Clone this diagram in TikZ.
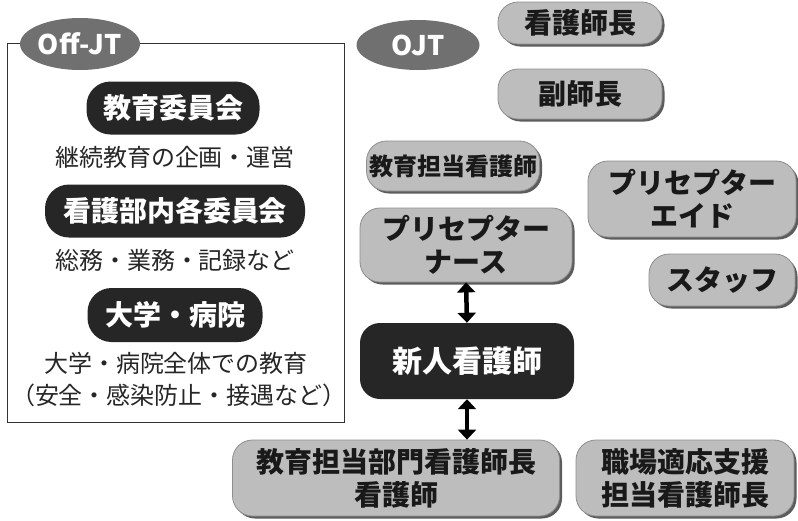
\documentclass[tikz,border=0pt]{standalone}
\usepackage{fontspec}
\setmainfont{Noto Sans CJK JP}
\usetikzlibrary{shapes.geometric,shadows,arrows.meta}
\definecolor{boxgray}{HTML}{BDBDBD}
\definecolor{boxedge}{HTML}{8E8E8E}
\definecolor{darkfill}{HTML}{262626}
\definecolor{ellgray}{HTML}{707070}
\definecolor{shadowgray}{HTML}{5C5C5C}
\tikzset{
  graybox/.style={draw=boxedge, line width=0.8pt, fill=boxgray, rounded corners=20pt,
    inner sep=0pt, align=center, font=\bfseries\fontsize{28}{33}\selectfont, text=black!90,
    drop shadow={shadow xshift=2.5pt, shadow yshift=-2.5pt, fill=shadowgray, opacity=1}},
  darkpill/.style={fill=darkfill, rounded corners=24pt, inner sep=0pt, align=center,
    font=\bfseries\fontsize{28}{33}\selectfont, text=white},
  darkbox/.style={fill=darkfill, rounded corners=20pt, inner sep=0pt, align=center,
    font=\bfseries\fontsize{30}{35}\selectfont, text=white},
  tag/.style={ellipse, fill=ellgray, inner sep=0pt, text=white,
    font=\bfseries\fontsize{27}{30}\selectfont},
  plain/.style={inner sep=0pt, font=\fontsize{24}{28}\selectfont, text=black!85},
  dblarrow/.style={line width=4.5pt, {Triangle[width=18pt,length=10pt]}-{Triangle[width=18pt,length=10pt]}}
}
\begin{document}
\begin{tikzpicture}[x=1pt,y=-1pt]
\useasboundingbox (0,0) rectangle (798,520);
% Off-JT frame
\draw[line width=0.8pt, black!80] (7,43) rectangle (344,422);
\node[tag, minimum width=120pt, minimum height=52pt] (offjt) at (80,44) {Off-JT};
\node[darkpill, minimum width=173pt, minimum height=53pt] (c1) at (173,108) {教育委員会};
\node[plain] (t1) at (175,157) {継続教育の企画・運営};
\node[darkpill, minimum width=260pt, minimum height=53pt] (c2) at (175,211) {看護部内各委員会};
\node[plain] (t2) at (175,260) {総務・業務・記録など};
\node[darkpill, minimum width=175pt, minimum height=54pt] (c3) at (175,315) {大学・病院};
\node[plain] (t3) at (176,363) {大学・病院全体での教育};
\node[plain] (t4) at (179,395) {（安全・感染防止・接遇など）};
% OJT
\node[tag, minimum width=123pt, minimum height=50pt] (ojt) at (418,45) {OJT};
\node[graybox, minimum width=164pt, minimum height=42pt] (head) at (580,23) {看護師長};
\node[graybox, minimum width=164pt, minimum height=50pt] (sub) at (580,94) {副師長};
\node[graybox, minimum width=173pt, minimum height=50pt, font=\bfseries\fontsize{24}{28}\selectfont] (edu) at (453,166) {教育担当看護師};
\node[graybox, minimum width=208pt, minimum height=76pt] (aide) at (692,199) {プリセプター\\エイド};
\node[graybox, minimum width=212pt, minimum height=74pt] (pnurse) at (466,245) {プリセプター\\ナース};
\node[graybox, minimum width=146pt, minimum height=52pt] (staff) at (722,280) {スタッフ};
\node[darkbox, minimum width=214pt, minimum height=76pt] (new) at (467,361) {新人看護師};
\node[graybox, minimum width=327pt, minimum height=76pt] (dept) at (396,478) {教育担当部門看護師長\\看護師};
\node[graybox, minimum width=218pt, minimum height=76pt] (adapt) at (685,478) {職場適応支援\\担当看護師長};
\draw[dblarrow] (pnurse.south) -- (new.north);
\draw[dblarrow] (new.south) -- (new.south |- dept.north);
\end{tikzpicture}
\end{document}
